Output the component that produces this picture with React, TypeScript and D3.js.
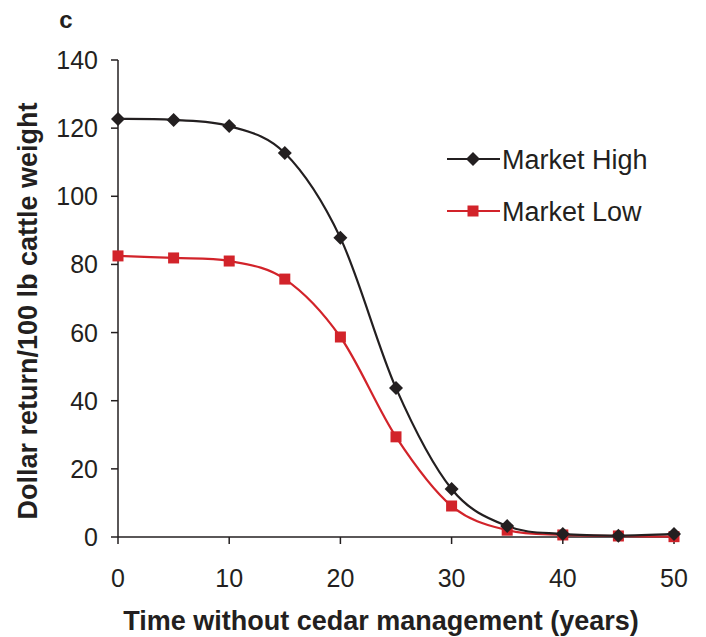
import React from "react";
import * as d3 from "d3";

const years = [0, 5, 10, 15, 20, 25, 30, 35, 40, 45, 50];
const marketHigh = [122.7, 122.4, 120.6, 112.7, 87.8, 43.7, 14.1, 3.2, 0.9, 0.4, 0.9];
const marketLow = [82.5, 81.9, 81.0, 75.7, 58.7, 29.4, 9.1, 2.0, 0.6, 0.3, 0.1];
const xTicks = [0, 10, 20, 30, 40, 50];
const yTicks = [0, 20, 40, 60, 80, 100, 120, 140];
const seriesNames = ["Market High", "Market Low"];

const BLACK = "#231f20";
const RED = "#d2232a";
const FONT = "'Liberation Sans', Arial, Helvetica, sans-serif";

export default function App() {
  const W = 706, H = 637;
  const x = d3.scaleLinear().domain([0, 50]).range([118, 674]);
  const y = d3.scaleLinear().domain([0, 140]).range([537, 60]);
  const line = d3
    .line<number>()
    .x((_, i) => x(years[i]))
    .y((d) => y(d))
    .curve(d3.curveCardinal.tension(0));

  const diamond = (cx: number, cy: number, r = 7) =>
    `M${cx},${cy - r}L${cx + r},${cy}L${cx},${cy + r}L${cx - r},${cy}Z`;

  return (
    <svg width={W} height={H} style={{ position: "absolute", left: 0, top: 0 }} fontFamily={FONT}>
      <rect width={W} height={H} fill="#fff" />
      <text x={66} y={28} fontSize={24} fontWeight="bold" textAnchor="middle" fill={BLACK}>c</text>
      {/* axes */}
      <line x1={x(0)} x2={x(0)} y1={y(140)} y2={y(0)} stroke={BLACK} strokeWidth={1.5} />
      <line x1={x(0)} x2={x(50)} y1={y(0)} y2={y(0)} stroke={BLACK} strokeWidth={1.5} />
      {yTicks.map((t) => (
        <g key={"y" + t}>
          <line x1={x(0) - 7} x2={x(0)} y1={y(t)} y2={y(t)} stroke={BLACK} strokeWidth={1.5} />
          <text x={98} y={y(t)} dy="0.36em" fontSize={25} textAnchor="end" fill={BLACK}>{t}</text>
        </g>
      ))}
      {xTicks.map((t) => (
        <g key={"x" + t}>
          <line x1={x(t)} x2={x(t)} y1={y(0)} y2={y(0) + 7} stroke={BLACK} strokeWidth={1.5} />
          <text x={x(t)} y={587} fontSize={25} textAnchor="middle" fill={BLACK}>{t}</text>
        </g>
      ))}
      <text x={381} y={630} fontSize={27} fontWeight="bold" textAnchor="middle" fill={BLACK}>
        Time without cedar management (years)
      </text>
      <text
        transform={`translate(37,${311}) rotate(-90)`}
        fontSize={27}
        fontWeight="bold"
        textAnchor="middle"
        fill={BLACK}
      >
        Dollar return/100 lb cattle weight
      </text>
      {/* series */}
      <path d={line(marketLow) || ""} fill="none" stroke={RED} strokeWidth={2.2} />
      <path d={line(marketHigh) || ""} fill="none" stroke={BLACK} strokeWidth={2.2} />
      {marketLow.map((v, i) => (
        <rect key={"l" + i} x={x(years[i]) - 5.5} y={y(v) - 5.5} width={11} height={11} fill={RED} />
      ))}
      {marketHigh.map((v, i) => (
        <path key={"h" + i} d={diamond(x(years[i]), y(v))} fill={BLACK} />
      ))}
      {/* legend */}
      <g>
        <line x1={447} x2={500} y1={159} y2={159} stroke={BLACK} strokeWidth={2.2} />
        <path d={diamond(473, 159)} fill={BLACK} />
        <text x={502} y={159} dy="0.36em" fontSize={27} fill={BLACK}>{seriesNames[0]}</text>
        <line x1={447} x2={500} y1={211} y2={211} stroke={RED} strokeWidth={2.2} />
        <rect x={467.5} y={205.5} width={11} height={11} fill={RED} />
        <text x={502} y={211} dy="0.36em" fontSize={27} fill={BLACK}>{seriesNames[1]}</text>
      </g>
    </svg>
  );
}
